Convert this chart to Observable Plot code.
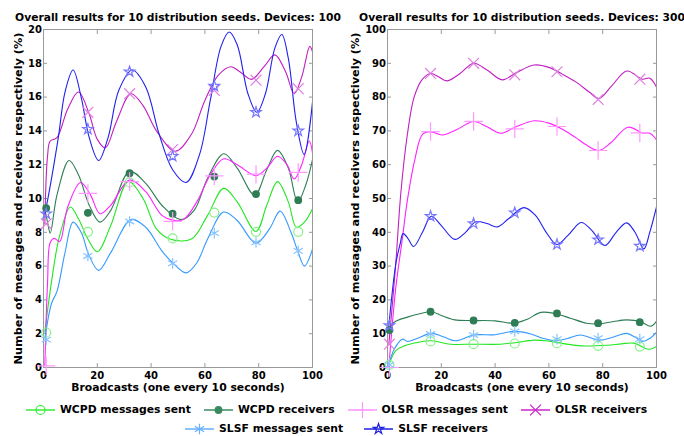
<!DOCTYPE html>
<html><head><meta charset="utf-8">
<script src="https://cdn.jsdelivr.net/npm/d3@7"></script>
<script src="https://cdn.jsdelivr.net/npm/@observablehq/plot@0.6"></script>
<style>
body{margin:0;background:#fff;font-family:"DejaVu Sans",sans-serif;}
#wrap{width:684px;height:436px;overflow:hidden;}
#plots{display:flex;height:398px;}
#legend{padding-top:2px;padding-right:12px;font:bold 10.8px "DejaVu Sans",sans-serif;color:#000;}
.row{display:flex;justify-content:center;align-items:center;height:19px;}
.item{display:flex;align-items:center;white-space:nowrap;}
.item svg{margin-right:4px;}
</style></head><body>
<div id="wrap"><div id="plots"></div><div id="legend"></div></div>
<script>
// ---------- data ----------
const xTicks = [0, 20, 40, 60, 80, 100];
const yTicks100 = [0, 2, 4, 6, 8, 10, 12, 14, 16, 18, 20];
const yTicks300 = [0, 10, 20, 30, 40, 50, 60, 70, 80, 90, 100];
const seriesNames = ["WCPD messages sent", "WCPD receivers", "OLSR messages sent", "OLSR receivers", "SLSF messages sent", "SLSF receivers"];
const titles = ["Overall results for 10 distribution seeds. Devices: 100", "Overall results for 10 distribution seeds. Devices: 300"];
const xLabel = "Broadcasts (one every 10 seconds)";
const yLabel = "Number of messages and receivers respectively (%)";

// curve samples, 100 devices
const wcpdSent100 = [[0.5,2.1],[3,5.1],[6,7.8],[10,9.5],[13,8.8],[16.5,7.6],[20,6.85],[25,8.4],[31.5,11.0],[37,10.0],[42,8.2],[47,7.6],[55,7.6],[61,9.0],[67,10.6],[72,9.8],[79,8.05],[83,9.6],[87,11.0],[91,9.8],[94,8.3],[97,8.6],[100,9.4]];
const wcpdRecv100 = [[0.5,9.4],[1.5,8.6],[2.5,7.95],[5,10.2],[9.5,12.25],[13,11.4],[17,9.6],[21,8.6],[25,9.3],[32,11.6],[38,10.9],[44,9.6],[51,8.75],[56,9.3],[61,11.2],[67,12.65],[72,11.8],[78.5,10.2],[83,11.7],[87,12.85],[91,11.8],[94.5,9.8],[97.5,10.8],[100,12.3]];
const olsrSent100 = [[0.5,0.1],[1.5,5],[2.5,7.4],[4,7.65],[6,7.45],[9,9.5],[13.8,10.95],[17.5,10.2],[21,9.1],[25,9.6],[32,11.1],[38,10.4],[44,9.0],[48,8.72],[52,8.75],[57,9.8],[62,11.4],[67,12.35],[72,12.0],[79,11.35],[83,11.8],[87,12.5],[90.5,12.0],[93.2,11.15],[96,12.0],[98.8,13.4],[100,12.7]];
const olsrRecv100 = [[0.5,8.5],[1.5,12.5],[2.5,13.4],[5,13.6],[9,15.3],[13,16.3],[17,15.0],[20,13.5],[23,13.0],[27,14.5],[32.5,16.2],[37,15.5],[42,14.0],[49,12.8],[55,13.8],[60,15.8],[65,17.3],[69.6,17.8],[73,17.5],[77.3,17.05],[82,17.8],[86,18.5],[90,17.5],[93.2,16.2],[96,17.2],[99,19.0],[100,18.7]];
const slsfSent100 = [[0.5,1.7],[3,3.8],[5,4.5],[8,6.8],[11,8.6],[14,8.0],[17,6.6],[20.5,5.75],[25,6.8],[32.5,8.75],[38,8.3],[44,6.9],[48,6.2],[53,5.6],[57,6.2],[61,7.6],[67,9.2],[72,8.7],[79,7.35],[84,8.2],[88,9.25],[92,8.0],[94.5,6.9],[97,6.0],[100,7.0]];
const slsfRecv100 = [[0.5,9.1],[2,10.3],[5.5,13.6],[8,16.3],[11,17.6],[14,16.0],[17,13.6],[20.5,12.25],[24,13.6],[28,16.4],[33,17.6],[38,16.6],[43,13.8],[48,11.7],[53,10.95],[58,12.6],[62,15.8],[66,19.0],[69,19.85],[72,19.1],[76,16.2],[79.3,15.1],[82.5,16.2],[86,18.9],[88.6,19.7],[91,18.3],[94,14.5],[96.9,12.6],[100,15.7]];

// curve samples, 300 devices
const wcpdSent300 = [[0.5,0.8],[3.1,5],[6.2,6.4],[11.1,7.4],[16.3,7.9],[23.5,6.9],[32,6.9],[42,6.9],[48,7.4],[54.5,8.1],[60,7.8],[66,7.0],[72,6.4],[81.7,6.6],[87,7.0],[91.6,7.2],[97,5.4],[100,6.2]];
const wcpdRecv300 = [[0.5,11.1],[2.5,13.4],[7.4,14.9],[12,15.9],[16.3,16.5],[20,15.4],[25,14.1],[32,13.9],[40,13.8],[47,13.1],[52,14.3],[57,16.3],[62,16.0],[68,14.6],[74,13.1],[78.6,12.9],[84,13.6],[89,14.1],[94,13.6],[97.8,12.2],[100,13.7]];
const olsrSent300 = [[0.5,0],[3,23],[5.5,38],[7.4,49.5],[10.1,61.3],[13,69],[16,69.8],[20.4,68.8],[26,70.5],[32,72.8],[37,71.2],[42,69.3],[48,71.3],[54.5,73],[60,72.3],[65,70.5],[70,68],[74,65.8],[78.6,64.2],[83,66.5],[89.4,71.1],[94.7,69.4],[97.5,69.3],[100,67.4]];
const olsrRecv300 = [[0.5,6.9],[3,30],[5,52],[7.4,69],[9.9,80],[13,85.3],[16.1,87],[19,86],[22,84.8],[27,87],[32,90],[37,88],[42.7,85.1],[48,87.3],[54.5,89.5],[60,88.8],[65,86.8],[70,84.5],[75,81.5],[78.6,79.6],[83,83],[89,87.7],[94.7,85.3],[97.5,85.6],[100,83]];
const slsfSent300 = [[0.5,0.8],[2.5,5.4],[5.6,8.4],[7.4,7.7],[11,8.6],[16.3,10.1],[21,9.0],[25.4,7.9],[32,9.6],[40,9.7],[47,10.7],[53,10.0],[58,8.6],[63,7.9],[67,8.6],[71.8,9.6],[78.6,8.1],[84,9.0],[88.9,10.1],[92,9.0],[94.7,7.7],[97.5,8.6],[100,10.4]];
const slsfRecv300 = [[0.5,12.4],[3.1,30.7],[4.7,36.6],[5.8,39.6],[7.5,38.3],[9.7,35.8],[13,40],[16.3,44.75],[20,42],[25,37.9],[29,40],[32.8,43.1],[37,42.6],[40.8,41.6],[45,44],[50.7,47.3],[55,45],[59,40],[62.9,36.4],[67,39],[72,42.9],[76,40.5],[80.8,36.1],[85,40],[88.9,42.8],[92,40],[95.3,35.1],[97.5,40],[100,47.5]];

// marker samples
const markerX100 = [1, 16.5, 32, 48, 63.5, 79, 94.7];
const markerX300 = [0.7, 16, 32, 47.3, 63, 78.3, 93.8];
const wcpdSentM100 = [2.07, 8.03, 10.95, 7.64, 9.17, 8.03, 8.03];
const wcpdRecvM100 = [9.43, 9.15, 11.5, 9.1, 11.3, 10.26, 9.9];
const olsrSentM100 = [0.1, 10.3, 11.0, 8.65, 11.34, 11.44, 11.54];
const olsrRecvM100 = [8.5, 15.1, 16.2, 12.9, 16.4, 17.0, 16.5];
const slsfSentM100 = [1.65, 6.6, 8.64, 6.16, 7.95, 7.4, 6.9];
const slsfRecvM100 = [9.1, 14.1, 17.5, 12.5, 16.65, 15.1, 14.0];
const wcpdSentM300 = [0.8, 7.7, 6.9, 7.1, 7.2, 6.4, 6.2];
const wcpdRecvM300 = [11.1, 16.5, 13.9, 13.2, 16.0, 13.1, 13.4];
const olsrSentM300 = [0, 69.8, 72.8, 70.6, 71.3, 64.2, 69.4];
const olsrRecvM300 = [6.9, 87, 90, 86.6, 87.5, 79.3, 85.3];
const slsfSentM300 = [0.8, 9.9, 9.6, 10.7, 8.4, 8.7, 8.4];
const slsfRecvM300 = [12.4, 44.75, 42.6, 45.8, 36.4, 37.8, 35.9];

// ---------- styles ----------
const lineColors = ["#22e622", "#2e7d55", "#ff22ff", "#c020c0", "#3399ff", "#2020f0"];
const markColors = ["#88f088", "#2e7d55", "#ff99ff", "#e080e0", "#88c4ff", "#7878ff"];
const legendLine = ["#33ee33", "#3a8a60", "#ff99ff", "#cc22cc", "#66b0ff", "#2020e0"];
const symbols = ["circle", "circle", "plus", "times", "asterisk", "star"];
const radii = [4.5, 3.3, 6, 5, 5, 3.3];
const fills = ["none", "#2e7d55", "none", "none", "none", "none"];

const TXT = {fontFamily: "DejaVu Sans", fontWeight: "bold"};

function panel(curves, markerX, markerVals, ymax, yTicks, title, ml, mr, ylDx) {
  const marks = [
    Plot.frame({stroke: "#999"}),
    Plot.axisX({ticks: xTicks, tickSize: -4, tickPadding: 8, stroke: "#999", fill: "#000", label: null, fontSize: 10, fontWeight: "bold"}),
    Plot.axisX({anchor: "top", ticks: xTicks, tickSize: -4, stroke: "#999", tickFormat: () => "", label: null}),
    Plot.axisY({ticks: yTicks, tickSize: -4, tickPadding: 5.5, stroke: "#999", fill: "#000", label: null, fontSize: 10, fontWeight: "bold"}),
    Plot.axisY({anchor: "right", ticks: yTicks, tickSize: -4, stroke: "#999", tickFormat: () => "", label: null}),
    Plot.text([title], {frameAnchor: "top", dy: -16, fontSize: 10.7, ...TXT}),
    Plot.text([xLabel], {frameAnchor: "bottom", dy: 23, fontSize: 10.8, ...TXT}),
    Plot.text([yLabel], {frameAnchor: "left", textAnchor: "middle", rotate: -90, dx: ylDx, fontSize: 11.3, ...TXT})
  ];
  curves.forEach((pts, i) => {
    marks.push(Plot.line(pts, {x: d => d[0], y: d => d[1], stroke: lineColors[i], strokeWidth: 1.1, curve: "catmull-rom", clip: true}));
  });
  markerVals.forEach((vals, i) => {
    const pts = vals.map((v, j) => ({x: markerX[j], y: v}));
    marks.push(Plot.dot(pts, {x: "x", y: "y", symbol: symbols[i], r: radii[i], stroke: markColors[i], fill: fills[i], strokeWidth: 1.2}));
  });
  return Plot.plot({
    width: 342, height: 398, marginLeft: ml, marginRight: mr, marginTop: 29, marginBottom: 31,
    style: {background: "transparent", color: "#000", fontFamily: "DejaVu Sans", overflow: "visible"},
    x: {domain: [0, 100]}, y: {domain: [0, ymax]},
    marks
  });
}

const plots = document.getElementById("plots");
plots.append(panel(
  [wcpdSent100, wcpdRecv100, olsrSent100, olsrRecv100, slsfSent100, slsfRecv100],
  markerX100,
  [wcpdSentM100, wcpdRecvM100, olsrSentM100, olsrRecvM100, slsfSentM100, slsfRecvM100],
  20, yTicks100, titles[0], 43, 30, -25.5));
plots.append(panel(
  [wcpdSent300, wcpdRecv300, olsrSent300, olsrRecv300, slsfSent300, slsfRecv300],
  markerX300,
  [wcpdSentM300, wcpdRecvM300, olsrSentM300, olsrRecvM300, slsfSentM300, slsfRecvM300],
  100, yTicks300, titles[1], 45, 28, -32));

// ---------- legend ----------
const symMap = {circle: d3.symbolCircle, plus: d3.symbolPlus, times: d3.symbolTimes, asterisk: d3.symbolAsterisk, star: d3.symbolStar};
const legend = d3.select("#legend");
const rows = [[0, 1, 2, 3], [4, 5]];
const rowGaps = [12, 20];
rows.forEach((idx, r) => {
  const row = legend.append("div").attr("class", "row").style("gap", rowGaps[r] + "px");
  idx.forEach(i => {
    const item = row.append("div").attr("class", "item");
    const svg = item.append("svg").attr("width", 31).attr("height", 16);
    svg.append("line").attr("x1", 1).attr("x2", 30).attr("y1", 8).attr("y2", 8).attr("stroke", legendLine[i]).attr("stroke-width", 1.5);
    svg.append("path").attr("transform", "translate(15.5,8)")
      .attr("d", d3.symbol(symMap[symbols[i]], Math.PI * radii[i] * radii[i])())
      .attr("fill", fills[i] === "none" ? "none" : legendLine[i])
      .attr("stroke", legendLine[i]).attr("stroke-width", 1.2);
    item.append("span").text(seriesNames[i]);
  });
});
</script>
</body></html>
